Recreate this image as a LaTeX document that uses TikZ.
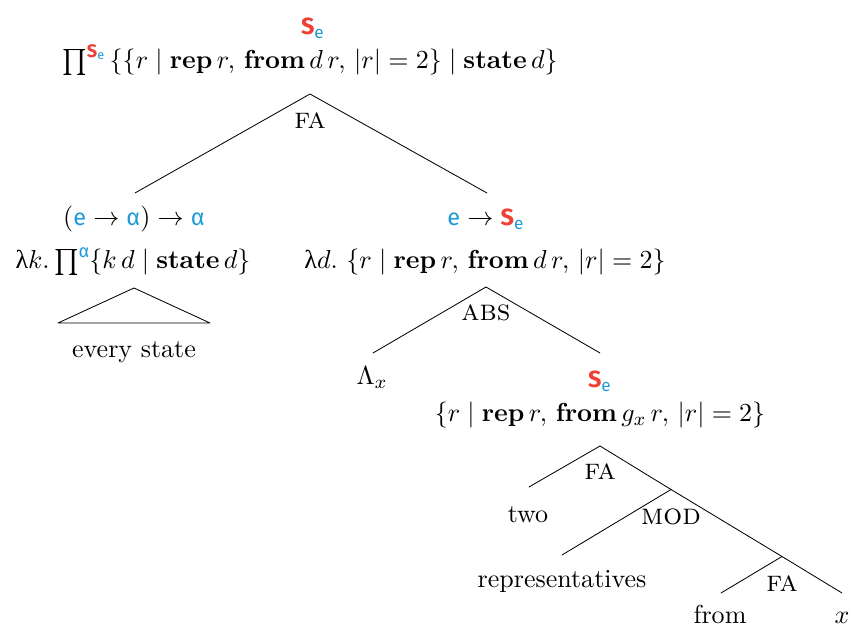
\documentclass[tikz,border=0pt]{standalone}
\usepackage{fontspec}
\usepackage{amsmath}
\newfontfamily\tyf[Scale=0.9]{Fira Sans}
\newfontfamily\grk{Liberation Serif}
\definecolor{tred}{HTML}{EE4035}
\definecolor{tblue}{HTML}{1E9BD7}
\newcommand\tS{{\tyf\bfseries\color{tred}S}}
\newcommand\te{{\tyf\color{tblue}e}}
\newcommand\ta{{\tyf\color{tblue}α}}
\newcommand\Se{\tS\textsubscript{\te}}
\newcommand\lam{{\grk λ}}
\newcommand\mysup[1]{\raisebox{1.05ex}{\fontsize{8.5}{9}\selectfont #1}}
\tikzset{
  txt/.style={inner sep=0pt, anchor=base, font=\fontsize{10.95}{13}\selectfont},
  rule/.style={inner sep=0pt, anchor=center, font=\fontsize{12.5}{14}\selectfont\scshape},
  edge/.style={line width=0.35pt, line cap=round, line join=round}
}
\begin{document}
\begin{tikzpicture}[x=0.421pt,y=-0.421pt]
\useasboundingbox (0,0) rectangle (849,629);
% nodes
\node[txt] (t0) at (313,35) {\Se};
\node[txt] (f0) at (310,69) {$\prod$\mysup{\Se}\,$\{\{r \mid \textbf{rep}\,r,\,\textbf{from}\,d\,r,\,|r| = 2\} \mid \textbf{state}\,d\}$};
\node[rule] (r0) at (310,121) {fa};
\node[txt] (t1) at (134,226) {$(\text{\te}\to\text{\ta})\to\text{\ta}$};
\node[txt] (f1) at (133,269) {\lam$k.\,$$\prod$\mysup{\ta}$\{k\,d \mid \textbf{state}\,d\}$};
\node[txt] (w1) at (134,358) {every state};
\node[txt] (t2) at (486,226) {$\text{\te}\to\text{\Se}$};
\node[txt] (f2) at (485,269) {\lam$d.\ \{r \mid \textbf{rep}\,r,\,\textbf{from}\,d\,r,\,|r| = 2\}$};
\node[rule] (r2) at (486,313) {abs};
\node[txt] (w2) at (372,385) {$\Lambda_x$};
\node[txt] (t3) at (600,388) {\Se};
\node[txt] (f3) at (600,422) {$\{r \mid \textbf{rep}\,r,\,\textbf{from}\,g_x\,r,\,|r| = 2\}$};
\node[rule] (r3) at (600,472) {fa};
\node[txt] (w3) at (528,523) {two};
\node[rule] (r4) at (671,517) {mod};
\node[txt] (w4) at (562,588) {representatives};
\node[rule] (r5) at (782,584) {fa};
\node[txt] (w5) at (720,624) {from};
\node[txt] (w6) at (842,624) {$x$};
% tree coordinates
\coordinate (a1) at (310,94);
\coordinate (a1l) at (135,193);
\coordinate (a1r) at (487,193);
\coordinate (tr) at (134,288);
\coordinate (trl) at (58,323);
\coordinate (trr) at (210,323);
\coordinate (a2) at (486,287);
\coordinate (a2l) at (373,353);
\coordinate (a2r) at (600,353);
\coordinate (a3) at (600,446);
\coordinate (a3l) at (529,487);
\coordinate (a4) at (671,489.5);
\coordinate (a4l) at (562,555);
\coordinate (a5) at (782,556.5);
\coordinate (a5l) at (721,593);
\coordinate (a5r) at (842,593);
% edges
\draw[edge] (a1l) -- (a1) -- (a1r);
\draw[edge] (tr) -- (trl) -- (trr) -- cycle;
\draw[edge] (a2l) -- (a2) -- (a2r);
\draw[edge] (a3l) -- (a3) -- (a4);
\draw[edge] (a4l) -- (a4) -- (a5);
\draw[edge] (a5l) -- (a5) -- (a5r);
\end{tikzpicture}
\end{document}
